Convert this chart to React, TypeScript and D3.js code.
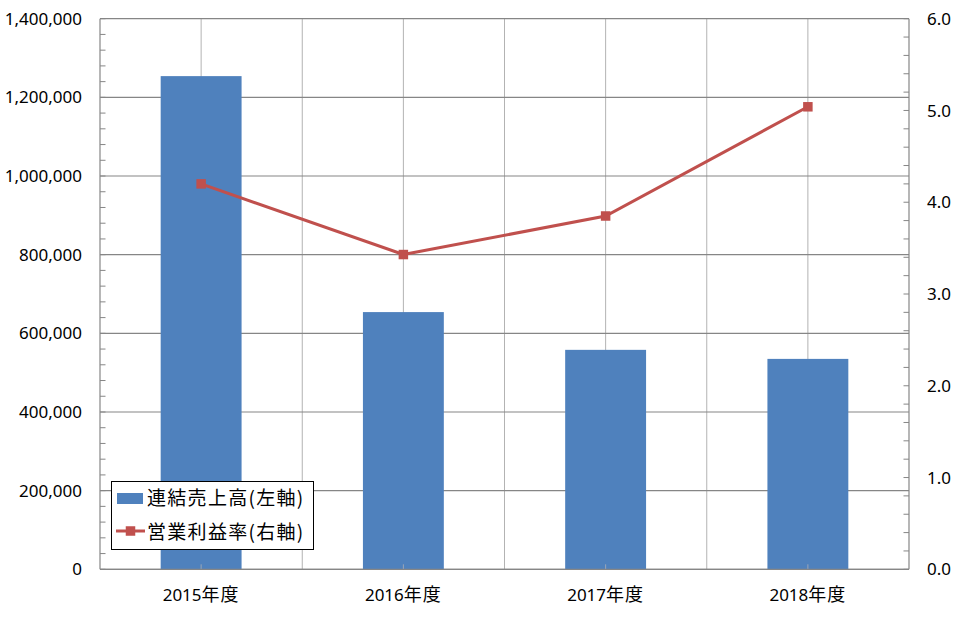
import React, { useEffect } from "react";
import * as d3 from "d3";

const categories = ["2015年度", "2016年度", "2017年度", "2018年度"];
const sales = [1254000, 654000, 558000, 535000];
const margin = [4.2, 3.43, 3.85, 5.04];
const leftTicks = [0, 200000, 400000, 600000, 800000, 1000000, 1200000, 1400000];
const rightTicks = [0, 1, 2, 3, 4, 5, 6];
const legendLabels = ["連結売上高(左軸)", "営業利益率(右軸)"];

const W = 975;
const H = 637;
const plot = { left: 100, right: 909, top: 18.7, bottom: 569.3 };

const numFont = "'Noto Sans', 'Open Sans', sans-serif";
const jpFont = "'Noto Sans CJK JP', 'Noto Sans', sans-serif";

export default function App() {
  useEffect(() => {
    document.body.style.margin = "0";
  }, []);

  const x = d3
    .scaleBand<string>()
    .domain(categories)
    .range([plot.left, plot.right])
    .paddingInner(0)
    .paddingOuter(0);
  const yL = d3.scaleLinear().domain([0, 1400000]).range([plot.bottom, plot.top]);
  const yR = d3.scaleLinear().domain([0, 6]).range([plot.bottom, plot.top]);
  const bw = x.bandwidth();
  const barW = bw / 2.5;
  const cx = (c: string) => (x(c) as number) + bw / 2;

  const fmt = d3.format(",");
  const leftMinor = d3.range(0, 1400001, 40000);
  const rightMinor = d3.range(0, 31).map((i) => i * 0.2);

  const line = d3
    .line<number>()
    .x((_, i) => cx(categories[i]))
    .y((d) => yR(d));

  const vGrid: number[] = [];
  categories.forEach((c, i) => {
    vGrid.push(cx(c));
    if (i > 0) vGrid.push(x(c) as number);
  });

  const lineColor = "#c0504d";
  const barColor = "#4f81bd";
  const axisColor = "#868686";

  const splitLabel = (s: string) => {
    const m = s.match(/^(\d+)(.*)$/);
    return m ? [m[1], m[2]] : [s, ""];
  };

  return (
    <svg width={W} height={H} style={{ display: "block", background: "#fff" }}>
      {/* vertical gridlines */}
      {vGrid.map((gx, i) => (
        <line key={"vg" + i} x1={gx} x2={gx} y1={plot.top} y2={plot.bottom} stroke="#b3b3b3" strokeWidth={1} />
      ))}
      {/* horizontal gridlines */}
      {leftTicks.map((t) => (
        <line key={"hg" + t} x1={plot.left} x2={plot.right} y1={yL(t)} y2={yL(t)} stroke={axisColor} strokeWidth={1.2} />
      ))}
      {/* minor ticks left */}
      {leftMinor.map((t) => (
        <line key={"lm" + t} x1={plot.left} x2={plot.left + 5.5} y1={yL(t)} y2={yL(t)} stroke={axisColor} strokeWidth={1} />
      ))}
      {/* minor ticks right */}
      {rightMinor.map((t, i) => (
        <line key={"rm" + i} x1={plot.right - 5.5} x2={plot.right} y1={yR(t)} y2={yR(t)} stroke={axisColor} strokeWidth={1} />
      ))}
      {/* bars */}
      {categories.map((c, i) => (
        <rect
          key={"b" + c}
          x={cx(c) - barW / 2}
          y={yL(sales[i])}
          width={barW}
          height={plot.bottom - yL(sales[i])}
          fill={barColor}
        />
      ))}
      {/* category ticks */}
      {categories.map((c) => (
        <line key={"ct" + c} x1={cx(c)} x2={cx(c)} y1={plot.bottom - 5} y2={plot.bottom} stroke="#9aa6b8" strokeWidth={1} />
      ))}
      {/* axes lines */}
      <line x1={plot.left} x2={plot.left} y1={plot.top} y2={plot.bottom} stroke={axisColor} strokeWidth={1.2} />
      <line x1={plot.right} x2={plot.right} y1={plot.top} y2={plot.bottom} stroke={axisColor} strokeWidth={1.2} />
      <line x1={plot.left} x2={plot.right} y1={plot.bottom} y2={plot.bottom} stroke={axisColor} strokeWidth={1.2} />
      {/* line series */}
      <path d={line(margin) || ""} fill="none" stroke={lineColor} strokeWidth={3} />
      {margin.map((v, i) => (
        <rect key={"m" + i} x={cx(categories[i]) - 4.75} y={yR(v) - 4.75} width={9.5} height={9.5} fill={lineColor} />
      ))}
      {/* left labels */}
      {leftTicks.map((t) => (
        <text key={"ll" + t} x={82} y={yL(t)} dy="0.36em" textAnchor="end" fontFamily={numFont} fontSize={17} fill="#000">
          {fmt(t)}
        </text>
      ))}
      {/* right labels */}
      {rightTicks.map((t) => (
        <text key={"rl" + t} x={927} y={yR(t)} dy="0.36em" textAnchor="start" fontFamily={numFont} fontSize={17} fill="#000">
          {t.toFixed(1)}
        </text>
      ))}
      {/* category labels */}
      {categories.map((c) => {
        const [num, jp] = splitLabel(c);
        return (
          <text key={"cl" + c} x={cx(c)} y={601} textAnchor="middle" fontFamily={jpFont} fontSize={17} fill="#000">
            <tspan fontFamily={numFont}>{num}</tspan>
            <tspan fontSize={18} letterSpacing={1}>{jp}</tspan>
          </text>
        );
      })}
      {/* legend */}
      <g>
        <rect x={111.5} y={481.5} width={202} height={68} fill="#fff" stroke="#000" strokeWidth={1} />
        <rect x={117} y={493} width={26} height={11} fill={barColor} />
        <line x1={116} x2={145} y1={531} y2={531} stroke={lineColor} strokeWidth={3} />
        <rect x={125.75} y={526.25} width={9.5} height={9.5} fill={lineColor} />
        <text x={147} y={505} fontFamily={jpFont} fontSize={19} letterSpacing={1.3} fill="#000">
          {legendLabels[0]}
        </text>
        <text x={147} y={539} fontFamily={jpFont} fontSize={19} letterSpacing={1.3} fill="#000">
          {legendLabels[1]}
        </text>
      </g>
    </svg>
  );
}
